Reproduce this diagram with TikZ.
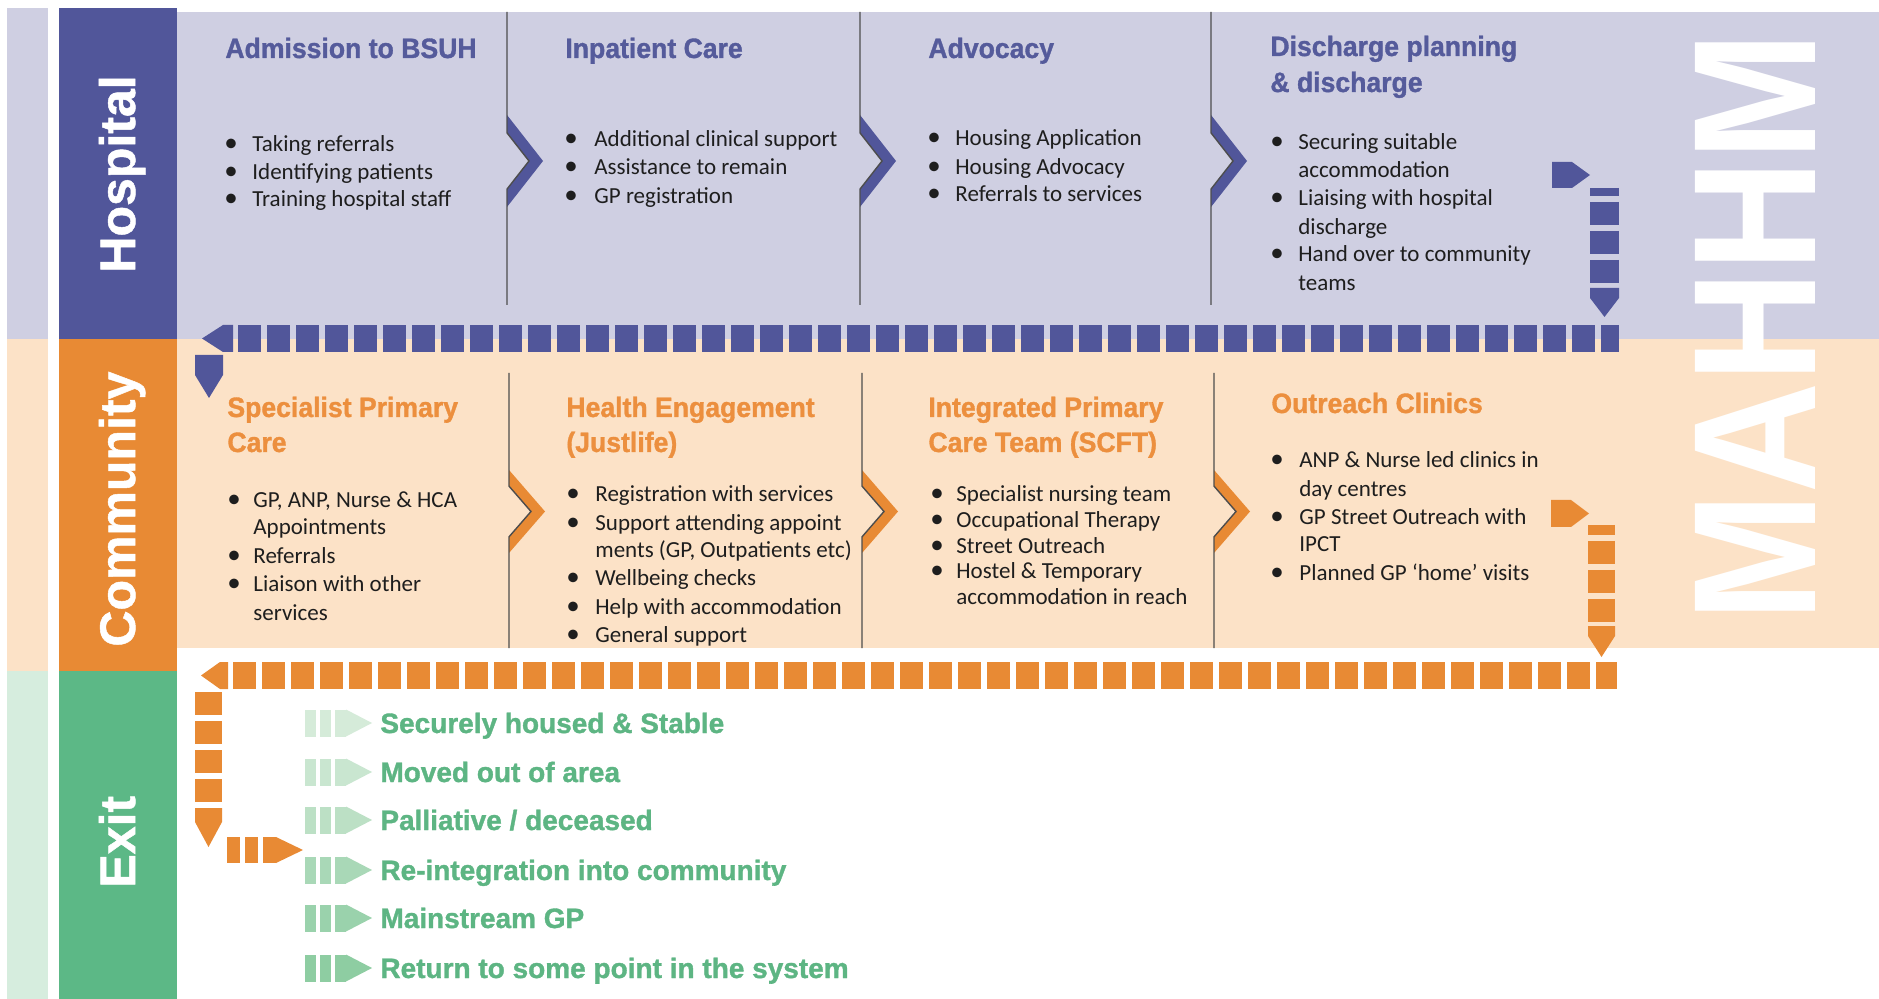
\documentclass[tikz,border=0pt]{standalone}
\usepackage{fontspec}
\setmainfont{Carlito}
\newfontfamily\titlefont[FakeStretch=0.95,FakeBold=1.2]{Liberation Sans Bold}
\newfontfamily\exitfont[FakeStretch=1.0,FakeBold=1.2]{Liberation Sans Bold}
\newfontfamily\labelfont[FakeBold=1]{Liberation Sans Bold}
\newfontfamily\bigfont[FakeStretch=0.88]{Liberation Sans Bold}
\definecolor{purp}{HTML}{51569A}
\definecolor{lav}{HTML}{CFCFE2}
\definecolor{orng}{HTML}{E88A34}
\definecolor{peach}{HTML}{FCE2C7}
\definecolor{grn}{HTML}{5CB886}
\definecolor{lgrn}{HTML}{D6EDDE}
\definecolor{purpT}{HTML}{555B9B}
\definecolor{orngT}{HTML}{EC8F3E}
\definecolor{grnT}{HTML}{5DB583}
\definecolor{sepc}{HTML}{4D4D4D}
\definecolor{bodyc}{HTML}{1E1E1E}
\definecolor{ic1}{HTML}{D5EBD9}
\definecolor{ic2}{HTML}{C9E6D0}
\definecolor{ic3}{HTML}{BCE0C5}
\definecolor{ic4}{HTML}{A9D8B7}
\definecolor{ic5}{HTML}{9AD2AC}
\definecolor{ic6}{HTML}{8ECDA2}
\newcounter{ln}
\newcommand\bitem[4]{%
  \stepcounter{ln}%
  \node[bodytext] (bul\arabic{ln}) at (#1-6,#3) {{\fontsize{13.5}{14}\selectfont\textbullet}};%
  \node[bodytext] (txt\arabic{ln}) at (#2,#3) {#4};}
\newcommand\citem[3]{%
  \stepcounter{ln}%
  \node[bodytext] (txt\arabic{ln}) at (#1,#2) {#3};}
% chevron: x, yc, half height, colour, line top, line bottom
\newcommand\chevron[6]{%
  \pgfmathsetmacro\inn{22*#3/36}%
  \fill[#4] (#1,#2-#3) -- (#1+36,#2) -- (#1,#2+#3) -- (#1,#2+\inn) -- (#1+22,#2) -- (#1,#2-\inn) -- cycle;
  \draw[sep] (#1,#5) -- (#1,#2-\inn) -- (#1+22,#2) -- (#1,#2+\inn) -- (#1,#6);}
\newcommand\eicon[2]{%
  \fill[#2] (305,#1-13.5) rectangle (316,#1+13.5);
  \fill[#2] (320,#1-13.5) rectangle (331,#1+13.5);
  \fill[#2] (335,#1-13.5) rectangle (346,#1+13.5);
  \fill[#2] (346,#1-13.5) -- (372,#1) -- (346,#1+13.5) -- cycle;}
\begin{document}
\begin{tikzpicture}[x=0.5pt,y=-0.5pt,
  bodytext/.style={anchor=base west,inner sep=0pt,font=\fontsize{11.5}{14}\selectfont,text=bodyc},
  htitle/.style={anchor=base west,inner sep=0pt,font=\titlefont\fontsize{14}{18}\selectfont,text=purpT},
  ctitle/.style={anchor=base west,inner sep=0pt,font=\titlefont\fontsize{14}{18}\selectfont,text=orngT},
  etext/.style={anchor=base west,inner sep=0pt,font=\exitfont\fontsize{14}{18}\selectfont,text=grnT},
  bandlabel/.style={anchor=base west,inner sep=0pt,rotate=90,font=\labelfont\fontsize{25}{30}\selectfont,text=white},
  sep/.style={draw=sepc,line width=0.7pt},
  dashrow/.style={line width=13.5pt,dash pattern=on 11.5pt off 3pt}]
\useasboundingbox (0,0) rectangle (1879,999);
\fill[white] (0,0) rectangle (1879,999);
% left strip
\fill[lav] (7,8) rectangle (48,339);
\fill[peach] (7,339) rectangle (48,671);
\fill[lgrn] (7,671) rectangle (48,999);
% bands
\fill[purp] (59,8) rectangle (177,339);
\fill[orng] (59,339) rectangle (177,671);
\fill[grn] (59,671) rectangle (177,999);
% content backgrounds
\fill[lav] (177,12) rectangle (1879,339);
\fill[peach] (177,339) rectangle (1879,648);
% big vertical word
\node[anchor=base west,inner sep=0pt,rotate=90,font=\bigfont\fontsize{87.3}{90}\selectfont,text=white] (mahhm) at (1815,622) {MAHHM};
% band labels
\node[bandlabel] (lhosp) at (135,273) {Hospital};
\node[bandlabel] (lcomm) at (135,647) {Community};
\node[bandlabel] (lexit) at (135,888) {Exit};
% separators and chevrons
\chevron{507}{161}{46}{purp}{12}{305}
\chevron{860}{161}{46}{purp}{12}{305}
\chevron{1211}{161}{46}{purp}{12}{305}
\chevron{509}{511.5}{41.5}{orng}{373}{648}
\chevron{862}{511.5}{41.5}{orng}{373}{648}
\chevron{1214}{511.5}{41.5}{orng}{373}{648}
% hospital titles
\node[htitle] (h1) at (225,58) {Admission to BSUH};
\node[htitle] (h2) at (565,58) {Inpatient Care};
\node[htitle] (h3) at (928,58) {Advocacy};
\node[htitle] (h4a) at (1270,56) {Discharge planning};
\node[htitle] (h4b) at (1270,92) {\& discharge};
% hospital bullets
\bitem{230}{252}{152}{Taking referrals}
\bitem{230}{252}{180}{Identifying patients}
\bitem{230}{252}{207}{Training hospital staff}
\bitem{570}{594}{147}{Additional clinical support}
\bitem{570}{594}{175}{Assistance to remain}
\bitem{570}{594}{204}{GP registration}
\bitem{933}{955}{146}{Housing Application}
\bitem{933}{955}{175}{Housing Advocacy}
\bitem{933}{955}{202}{Referrals to services}
\bitem{1276}{1298}{150}{Securing suitable}
\citem{1298}{178}{accommodation}
\bitem{1276}{1298}{206}{Liaising with hospital}
\citem{1298}{235}{discharge}
\bitem{1276}{1298}{262}{Hand over to community}
\citem{1298}{291}{teams}
% community titles
\node[ctitle] (c1a) at (227,417) {Specialist Primary};
\node[ctitle] (c1b) at (227,452) {Care};
\node[ctitle] (c2a) at (566,417) {Health Engagement};
\node[ctitle] (c2b) at (566,452) {(Justlife)};
\node[ctitle] (c3a) at (928,417) {Integrated Primary};
\node[ctitle] (c3b) at (928,452) {Care Team (SCFT)};
\node[ctitle] (c4) at (1271,413) {Outreach Clinics};
% community bullets
\bitem{233}{253}{508}{GP, ANP, Nurse \& HCA}
\citem{253}{535}{Appointments}
\bitem{233}{253}{564}{Referrals}
\bitem{233}{253}{592}{Liaison with other}
\citem{253}{620}{services}
\bitem{572}{595}{502}{Registration with services}
\bitem{572}{595}{531}{Support attending appoint}
\citem{595}{558}{ments (GP, Outpatients etc)}
\bitem{572}{595}{586}{Wellbeing checks}
\bitem{572}{595}{615}{Help with accommodation}
\bitem{572}{595}{642}{General support}
\bitem{936}{956}{502}{Specialist nursing team}
\bitem{936}{956}{528}{Occupational Therapy}
\bitem{936}{956}{553}{Street Outreach}
\bitem{936}{956}{579}{Hostel \& Temporary}
\citem{956}{604}{accommodation in reach}
\bitem{1276}{1299}{468}{ANP \& Nurse led clinics in}
\citem{1299}{497}{day centres}
\bitem{1276}{1299}{525}{GP Street Outreach with}
\citem{1299}{552}{IPCT}
\bitem{1276}{1299}{581}{Planned GP ‘home’ visits}
% purple flow arrows
\coordinate (pr0) at (238,338.5);
\coordinate (pr1) at (1619,338.5);
\draw[purp,dashrow] (pr0) -- (pr1);
\fill[purp] (202,338.5) -- (223,325) -- (233,325) -- (233,352) -- (223,352) -- cycle;
\fill[purp] (1552,162) -- (1572,162) -- (1590,175) -- (1572,188) -- (1552,188) -- cycle;
\coordinate (pv0) at (1604.5,188);
\coordinate (pv1) at (1604.5,283);
\draw[purp,line width=14.5pt,dash pattern=on 11.5pt off 3pt,dash phase=7.5pt] (pv0) -- (pv1);
\fill[purp] (1590,288) -- (1619,288) -- (1619,298) -- (1604.5,317) -- (1590,298) -- cycle;
\fill[purp] (195,355) -- (223,355) -- (223,375) -- (209,398) -- (195,375) -- cycle;
% orange flow arrows
\fill[orng] (1551,500) -- (1571,500) -- (1589,513.5) -- (1571,527) -- (1551,527) -- cycle;
\coordinate (ov0) at (1601.5,525);
\coordinate (ov1) at (1601.5,622);
\draw[orng,dashrow,dash phase=6.5pt] (ov0) -- (ov1);
\fill[orng] (1588,626) -- (1615,626) -- (1615,636) -- (1601.5,657) -- (1588,636) -- cycle;
\coordinate (or0) at (233,675.5);
\coordinate (or1) at (1617,675.5);
\draw[orng,dashrow] (or0) -- (or1);
\fill[orng] (201,675.5) -- (220,662) -- (228,662) -- (228,689) -- (220,689) -- cycle;
\coordinate (ol0) at (208.5,692);
\coordinate (ol1) at (208.5,802);
\draw[orng,dashrow] (ol0) -- (ol1);
\fill[orng] (195,808) -- (222,808) -- (222,822) -- (208.5,847) -- (195,822) -- cycle;
\fill[orng] (227,837) rectangle (240,863);
\fill[orng] (245,837) rectangle (258,863);
\fill[orng] (263,837) rectangle (276,863);
\fill[orng] (276,837) -- (303,850) -- (276,863) -- cycle;
% exit outcomes
\eicon{723}{ic1}
\eicon{772}{ic2}
\eicon{820}{ic3}
\eicon{870}{ic4}
\eicon{918}{ic5}
\eicon{968}{ic6}
\node[etext] (e1) at (380,733) {Securely housed \& Stable};
\node[etext] (e2) at (380,782) {Moved out of area};
\node[etext] (e3) at (380,830) {Palliative / deceased};
\node[etext] (e4) at (380,880) {Re-integration into community};
\node[etext] (e5) at (380,928) {Mainstream GP};
\node[etext] (e6) at (380,978) {Return to some point in the system};
\end{tikzpicture}
\end{document}
